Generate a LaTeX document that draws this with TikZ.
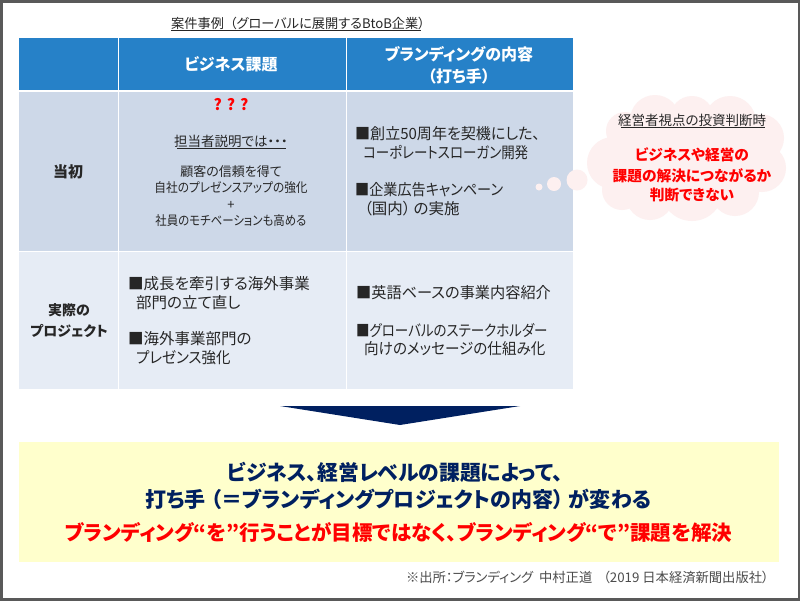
\documentclass[tikz,border=0pt]{standalone}
\usepackage{fontspec}
\setmainfont[RawFeature=+palt]{Noto Sans CJK JP}
\definecolor{hdr}{HTML}{2681C8}
\definecolor{rowa}{HTML}{CDD8E8}
\definecolor{rowb}{HTML}{E6ECF5}
\definecolor{navy}{HTML}{002060}
\definecolor{ink}{HTML}{262626}
\definecolor{puff}{HTML}{FDF0F0}
\definecolor{pale}{HTML}{FFFFCC}
\newcommand{\fs}[1]{\fontsize{#1}{#1}\selectfont}
\newcommand{\nrw}[2]{\scalebox{#1}[1]{#2}}
\tikzset{
  txt/.style={inner sep=0pt,text=ink,font=\fs{13}},
  cols/.style={txt,anchor=west,font=\fs{15.5}},
  hd/.style={inner sep=0pt,text=white,font=\fs{16}\bfseries},
  lead/.style={inner sep=0pt,text=ink,font=\fs{15}\bfseries},
  redb/.style={inner sep=0pt,text=red,font=\fs{14.7}\bfseries},
  big/.style={inner sep=0pt,text=navy,font=\fs{21}\bfseries},
  under/.style={draw=ink,line width=0.7pt}
}
\begin{document}
\begin{tikzpicture}[x=1pt,y=-1pt]
\useasboundingbox (0,0) rectangle (800,600);
\fill[white] (0,0) rectangle (800,600);
\draw[draw=black!65,line width=3pt] (1,1) rectangle (799,599);
% table
\fill[hdr] (19,38) rectangle (117.5,89.5);
\fill[hdr] (118.5,38) rectangle (345.5,89.5);
\fill[hdr] (346.5,38) rectangle (573,89.5);
\fill[rowa] (19,91.5) rectangle (117.5,250.5);
\fill[rowa] (118.5,91.5) rectangle (345.5,250.5);
\fill[rowa] (346.5,91.5) rectangle (573,250.5);
\fill[rowb] (19,251.5) rectangle (117.5,389);
\fill[rowb] (118.5,251.5) rectangle (345.5,389);
\fill[rowb] (346.5,251.5) rectangle (573,389);
% title
\node[txt,font=\fs{13.2},anchor=west] (title) at (171,23.5) {案件事例\hspace{6pt}（グローバルに展開するBtoB企業）};
\draw[under] (171,30.5) -- (421,30.5);
% header
\node[hd] (h1) at (231,64) {ビジネス課題};
\node[hd] (h2a) at (459,54) {ブランディングの内容};
\node[hd] (h2b) at (459,76) {（打ち手）};
% left column
\node[lead] (r1) at (68,172) {当初};
\node[lead,font=\fs{14}\bfseries] (r2a) at (69,310) {実際の};
\node[lead,font=\fs{14}\bfseries] (r2b) at (69,331) {プロジェクト};
% row 1 col 2
\node[redb,font=\fs{15.5}\bfseries] (q) at (231,105) {?\hspace{5pt}?\hspace{5pt}?};
\node[txt,font=\fs{13.5}] (who) at (231,141) {担当者説明では・・・};
\draw[under] (177,148.5) -- (286,148.5);
\node[txt] (d1) at (231,172) {顧客の信頼を得て};
\node[txt] (d2) at (231,188) {\nrw{.9}{自社のプレゼンスアップの強化}};
\node[txt] (d3) at (231,205) {+};
\node[txt] (d4) at (231,221) {\nrw{.88}{社員のモチベーションも高める}};
% row 1 col 3
\node[cols] (a1) at (355,134) {\nrw{.97}{■創立50周年を契機にした、}};
\node[cols] (a2) at (363,153) {\nrw{.87}{コーポレートスローガン開発}};
\node[cols] (a3) at (355,190) {\nrw{.91}{■企業広告キャンペーン}};
\node[cols] (a4) at (364,209) {（国内）\hspace{3pt}の実施};
% row 2 col 2
\node[cols] (b1) at (128,284) {■成長を牽引する海外事業};
\node[cols] (b2) at (136,303) {部門の立て直し};
\node[cols] (b3) at (128,339) {■海外事業部門の};
\node[cols] (b4) at (136,358) {\nrw{.93}{プレゼンス強化}};
% row 2 col 3
\node[cols] (c1) at (356,293) {\nrw{.98}{■英語ベースの事業内容紹介}};
\node[cols] (c2) at (356,330) {\nrw{.87}{■グローバルのステークホルダー}};
\node[cols] (c3) at (364,349) {\nrw{.94}{向けのメッセージの仕組み化}};
% thought cloud
\fill[puff] (577,180) circle (10.5);
\fill[puff] (554,184) circle (7);
\fill[puff] (539,187) circle (3.5);
\foreach \cx/\cy/\r in {625/131/19, 613/163/26, 622/190/20, 650/196/24, 692/190/31,
  735/192/24, 762/168/24, 760/138/24, 730/122/26, 692/118/22, 655/120/25, 692/155/48, 650/155/40, 735/155/40}
  \fill[puff] (\cx,\cy) circle (\r);
\node[txt,font=\fs{13.5}] (ct) at (692,120) {経営者視点の投資判断時};
\draw[under] (621,127) -- (765,127);
\node[redb] (c4) at (692,155) {ビジネスや経営の};
\node[redb] (c5) at (692,176) {課題の解決につながるか};
\node[redb] (c6) at (692,195) {判断できない};
% arrow
\fill[navy] (280,406) -- (520,406) -- (400,425) -- cycle;
% conclusion
\fill[pale] (19,442) rectangle (779,562);
\node[big] (e1) at (395,472) {\nrw{.99}{ビジネス、経営レベルの課題によって、}};
\node[big] (e2) at (398.5,499) {打ち手\hspace{5pt}（＝ブランディングプロジェクトの内容）\hspace{5pt}が変わる};
\node[big,text=red,font=\fs{20.5}\bfseries] (e3) at (398.5,533) {\nrw{1}{ブランディング“を”行うことが目標ではなく、ブランディング“で”課題を解決}};
\node[txt,anchor=east,text=black!70,font=\fs{13.3}] (src) at (769,577) {※出所：ブランディング\ \ 中村正道\ \ \hspace{5pt}（2019 日本経済新聞出版社）};
\end{tikzpicture}
\end{document}
